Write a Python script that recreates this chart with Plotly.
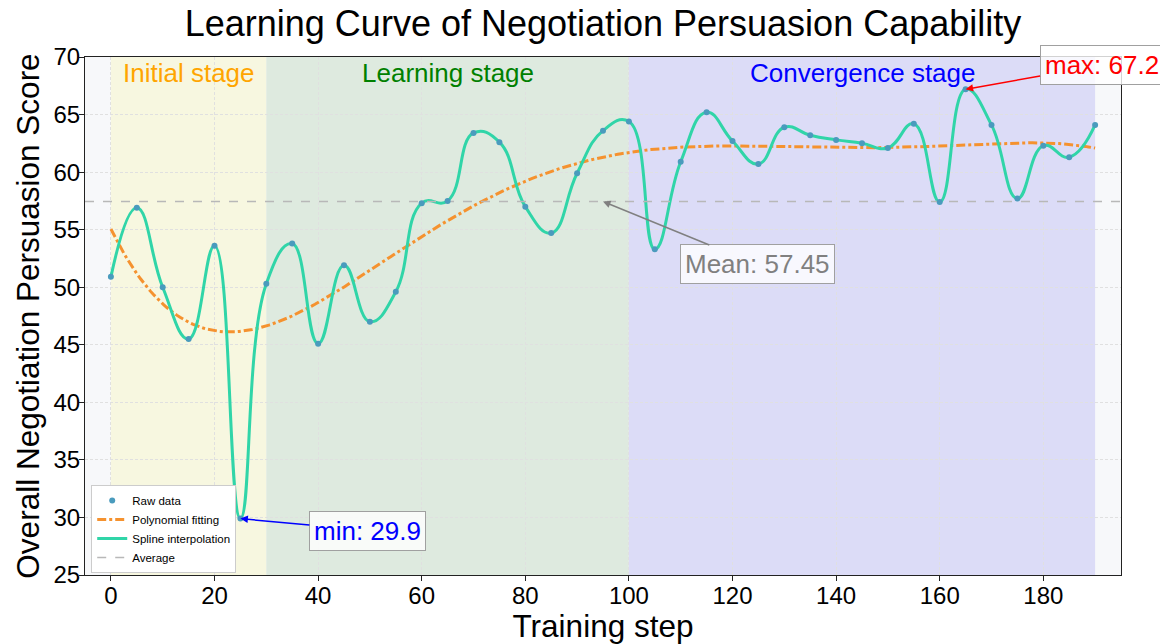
import numpy as np
import plotly.graph_objects as go

# training steps and the raw persuasion scores
steps = list(range(0, 195, 5))
scores = [50.9, 56.9, 50.0, 45.5, 53.6, 29.9, 50.3, 53.8, 45.1, 51.9,
          47.0, 49.6, 57.3, 57.5, 63.4, 62.6, 57.0, 54.7, 59.9, 63.6,
          64.4, 53.3, 60.9, 65.2, 62.7, 60.7, 63.9, 63.2, 62.8, 62.5,
          62.1, 64.2, 57.4, 67.2, 64.1, 57.7, 62.3, 61.3, 64.1]

stage_names = ["Initial stage", "Learning stage", "Convergence stage"]
stage_bounds = [(0, 30), (30, 100), (100, 190)]
stage_fill = ["#f7f7e0", "#deeadf", "#dcdcf7"]
stage_text = ["orange", "green", "blue"]

POLY_DEG = 5
X_RANGE = [-5, 195]
Y_RANGE = [25, 70]
FONT = "Arial, Liberation Sans, sans-serif"

x = np.array(steps)
y = np.array(scores)
mean_val = y.mean()
coef = np.polyfit(x, y, POLY_DEG)
x_fit = np.linspace(x.min(), x.max(), 300)
y_fit = np.polyval(coef, x_fit)
i_min, i_max = int(y.argmin()), int(y.argmax())

fig = go.Figure()
fig.add_trace(go.Scatter(x=x_fit, y=y_fit, mode="lines", name="Polynomial fitting",
                         line=dict(color="#f5922f", width=3, dash="dashdot"), legendrank=2))
fig.add_trace(go.Scatter(x=steps, y=scores, mode="lines", name="Spline interpolation",
                         line=dict(color="#30d5a8", width=3, shape="spline", smoothing=1.3),
                         legendrank=3))
fig.add_trace(go.Scatter(x=X_RANGE, y=[mean_val, mean_val], mode="lines", name="Average",
                         line=dict(color="#b8b8b8", width=1.5, dash="dash"), legendrank=4))
fig.add_trace(go.Scatter(x=steps, y=scores, mode="markers", name="Raw data",
                         marker=dict(color="#4a9bbd", size=6), legendrank=1))

for name, (a, b), fill, tc in zip(stage_names, stage_bounds, stage_fill, stage_text):
    fig.add_shape(type="rect", xref="x", yref="paper", x0=a, x1=b, y0=0, y1=1,
                  fillcolor=fill, line=dict(width=0), layer="below")
    fig.add_annotation(x=(a + b) / 2, y=68.6, text=name, showarrow=False,
                       font=dict(size=26, color=tc, family=FONT))

box = dict(bgcolor="rgba(255,255,255,0.8)", bordercolor="#a0a0a0", borderpad=4,
           borderwidth=1, arrowwidth=1.5, arrowhead=2)
fig.add_annotation(x=95, y=mean_val, text=f"Mean: {mean_val:.2f}", ax=154, ay=63,
                   font=dict(size=26, color="gray", family=FONT), arrowcolor="gray", **box)
fig.add_annotation(x=steps[i_min], y=scores[i_min], text=f"min: {scores[i_min]:.1f}",
                   ax=127, ay=12, font=dict(size=26, color="blue", family=FONT),
                   arrowcolor="blue", **box)
fig.add_annotation(x=steps[i_max], y=scores[i_max], text=f"max: {scores[i_max]:.1f}",
                   ax=136, ay=-24, font=dict(size=26, color="red", family=FONT),
                   arrowcolor="red", **box)

axis_style = dict(showline=True, mirror=True, linecolor="#222222", linewidth=1,
                  ticks="outside", ticklen=5, tickcolor="#222222", automargin=False,
                  ticklabelstandoff=-6,
                  showgrid=True, gridcolor="#e0e0e0", griddash="3px,2px", gridwidth=0.8,
                  zeroline=False, tickfont=dict(size=24, color="black", family=FONT))

fig.update_xaxes(range=X_RANGE, tickvals=list(range(0, 200, 20)),
                 title=dict(text="Training step", font=dict(size=31.5, family=FONT, color="black"),
                            standoff=0), **axis_style)
fig.update_yaxes(range=Y_RANGE, tickvals=list(range(25, 75, 5)),
                 title=dict(text="Overall Negotiation Persuasion Score",
                            font=dict(size=31.5, family=FONT, color="black"), standoff=4),
                 **axis_style)

# the page body adds an 8px offset, so the figure is 8px smaller than the window
fig.update_layout(width=1160, height=636, paper_bgcolor="white", plot_bgcolor="#f7f8fa",
                  margin=dict(l=77, r=47, t=49, b=69),
                  title=dict(text="Learning Curve of Negotiation Persuasion Capability",
                             x=0.5, xref="paper", xanchor="center", y=0.9756, yanchor="middle",
                             font=dict(size=36, family=FONT, color="black")),
                  font=dict(family=FONT),
                  legend=dict(x=0.006, y=0.004, xanchor="left", yanchor="bottom",
                              bgcolor="white", bordercolor="#cccccc", borderwidth=1,
                              font=dict(size=11.5, color="black", family=FONT),
                              tracegroupgap=0, itemwidth=30))

fig.write_html("out.html")
